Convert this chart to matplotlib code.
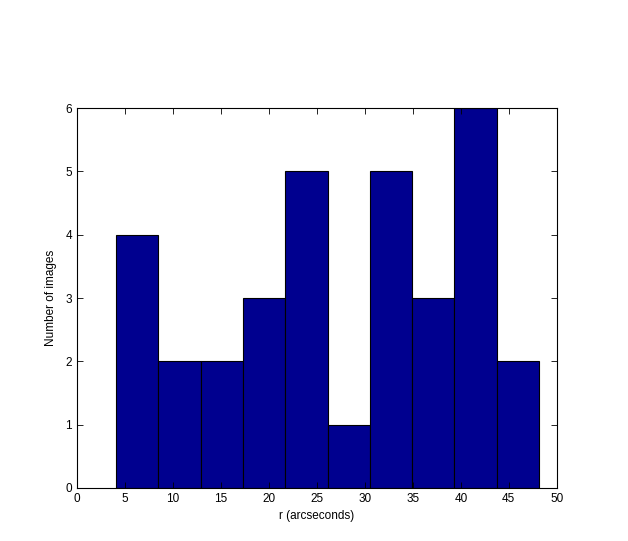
import matplotlib
matplotlib.use('Agg')
import matplotlib.pyplot as plt
import numpy

# histogram of image separations
binEdges = [4.06, 8.47, 12.88, 17.29, 21.70, 26.11, 30.52, 34.93, 39.34, 43.75, 48.16]
counts = [4, 2, 2, 3, 5, 1, 5, 3, 6, 2]
xTicks = [0, 5, 10, 15, 20, 25, 30, 35, 40, 45, 50]
yTicks = [0, 1, 2, 3, 4, 5, 6]

plt.rcParams['font.family'] = ['Liberation Sans', 'DejaVu Sans']

fig = plt.figure(figsize=(6.28, 5.41), dpi=100)
ax = fig.add_axes([0.1226, 0.098, 0.764, 0.702])

edges = numpy.array(binEdges)
ax.bar(edges[:-1], counts, width=numpy.diff(edges), align='edge',
       color='#00008F', edgecolor='black', linewidth=0.8)

ax.set_xlim(0, 50)
ax.set_ylim(0, 6)
ax.set_xticks(xTicks)
ax.set_yticks(yTicks)
ax.tick_params(direction='in', top=True, right=True, labelsize=8.5, length=4, width=0.6)
for spine in ax.spines.values():
    spine.set_linewidth(0.8)

ax.set_xlabel('r (arcseconds)', fontsize=8.5, labelpad=4)
ax.set_ylabel('Number of images', fontsize=8.5, labelpad=6)

plt.savefig('out.png', dpi=100)
plt.close()
